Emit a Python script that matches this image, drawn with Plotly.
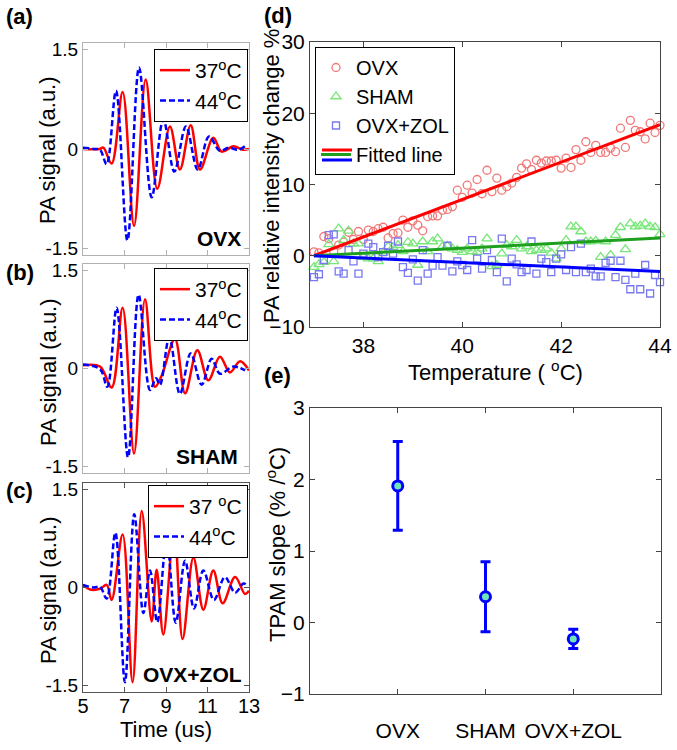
import plotly.graph_objects as go

# ---------------- data ----------------
# Panels (a)-(c): PA waveforms, extrema (time in us, signal in a.u.)
a_t37 = [5.0, 5.8, 5.98, 6.38, 6.91, 7.46, 8.02, 8.58, 9.19, 9.67, 10.19, 10.64, 11.28, 11.68, 12.25, 12.7, 13.0]
a_v37 = [0.0, 0.0, 0.02, -0.22, 0.86, -1.16, 1.05, -0.60, 0.34, -0.31, 0.36, -0.31, 0.17, -0.04, 0.04, -0.01, 0.0]
a_t44 = [5.0, 5.6, 5.82, 6.14, 6.59, 7.14, 7.70, 8.31, 8.87, 9.40, 9.96, 10.53, 11.07, 11.6, 12.0, 12.5, 12.8]
a_v44 = [0.02, 0.0, -0.01, -0.23, 0.88, -1.38, 1.23, -0.73, 0.45, -0.34, 0.34, -0.31, 0.19, -0.03, 0.02, -0.01, 0.04]

b_t37 = [5.0, 5.82, 6.38, 6.91, 7.46, 7.99, 8.47, 8.79, 9.43, 9.92, 10.51, 11.04, 11.6, 12.08, 12.57, 13.0]
b_v37 = [0.05, 0.03, -0.29, 0.93, -1.30, 1.06, -0.28, -0.11, 0.45, -0.38, 0.28, -0.18, 0.18, -0.06, 0.11, -0.03]
b_t44 = [5.0, 5.82, 6.17, 6.62, 7.17, 7.68, 8.23, 8.52, 8.71, 9.16, 9.67, 10.19, 10.72, 11.2, 11.6, 12.25, 12.81]
b_v44 = [0.06, -0.01, -0.28, 0.93, -1.36, 1.13, -0.33, -0.15, -0.25, 0.48, -0.39, 0.23, -0.25, 0.15, -0.08, 0.03, -0.03]

c_t37 = [5.0, 5.34, 5.82, 6.14, 6.38, 6.91, 7.39, 7.83, 8.31, 8.55, 8.87, 9.39, 9.80, 10.32, 10.8, 11.28, 11.73, 12.33, 12.81, 13.0]
c_v37 = [0.04, -0.03, -0.02, 0.04, -0.19, 0.81, -1.45, 1.17, -0.52, 0.27, -0.72, 0.90, -0.79, 0.46, -0.34, 0.26, -0.24, 0.16, -0.10, -0.05]
c_t44 = [5.0, 5.5, 5.82, 6.14, 6.56, 7.02, 7.47, 7.91, 8.23, 8.58, 9.03, 9.47, 9.92, 10.35, 10.8, 11.31, 11.84, 12.33, 12.73, 12.89]
c_v44 = [0.04, 0.0, 0.01, -0.17, 0.84, -1.45, 1.12, -0.39, 0.26, -0.53, 0.74, -0.54, 0.41, -0.32, 0.26, -0.19, 0.16, -0.08, 0.06, 0.04]

wave_ticks = [5, 7, 9, 11, 13]
amp_ticks = [-1.5, 0, 1.5]
amp_ticktext = ["-1.5", "0", "1.5"]
name_37 = "37<sup>o</sup>C"
name_44 = "44<sup>o</sup>C"
name_37c = "37 <sup>o</sup>C"
group_labels = ["OVX", "SHAM", "OVX+ZOL"]

# Panel (d): PA relative intensity change (%) vs temperature
temps = [37.0, 37.1, 37.2, 37.3, 37.4, 37.5, 37.6, 37.7, 37.8, 37.9,
         38.0, 38.1, 38.2, 38.3, 38.4, 38.5, 38.6, 38.7, 38.8, 38.9,
         39.0, 39.1, 39.2, 39.3, 39.4, 39.5, 39.6, 39.7, 39.8, 39.9,
         40.0, 40.1, 40.2, 40.3, 40.4, 40.5, 40.6, 40.7, 40.8, 40.9,
         41.0, 41.1, 41.2, 41.3, 41.4, 41.5, 41.6, 41.7, 41.8, 41.9,
         42.0, 42.1, 42.2, 42.3, 42.4, 42.5, 42.6, 42.7, 42.8, 42.9,
         43.0, 43.1, 43.2, 43.3, 43.4, 43.5, 43.6, 43.7, 43.8, 43.9, 44.0]
ovx_change = [0.55, 0.4, 2.7, 2.4, 0.6, 1.5, 1.9, 3.3, 2.3, 3.4,
              2.3, 3.6, 3.4, 3.8, 4.0, 2.5, 3.1, 3.2, 5.0, 4.0,
              4.9, 4.3, 3.5, 5.5, 5.6, 5.6, 6.4, 6.5, 6.9, 9.2,
              8.2, 9.9, 8.8, 10.7, 8.7, 12.0, 9.0, 10.9, 9.2, 9.7,
              10.2, 11.0, 12.3, 12.9, 12.1, 13.4, 13.0, 13.3, 13.3, 13.4,
              12.3, 13.7, 12.4, 14.9, 13.4, 16.0, 14.5, 15.5, 14.5, 14.5,
              15.1, 14.6, 17.9, 15.2, 19.0, 17.6, 17.4, 16.4, 18.6, 17.3, 18.3]
sham_change = [-1.6, -1.2, -0.9, 1.6, -0.8, 3.8, 2.2, 3.5, 1.7, 1.7,
               -0.2, -0.4, -0.4, -0.8, 0.4, 1.3, 1.2, 1.5, 0.6, 1.9,
               1.7, -1.3, 2.0, 0.6, 2.0, 2.4, 1.3, 1.4, 1.0, 0.8,
               0.5, 1.0, 0.6, 0.5, 1.0, 2.4, -1.5, -1.3, 0.3, 1.5,
               1.3, 2.2, 1.0, 1.3, 0.6, 0.8, 0.8, 1.0, 0.4, -0.4,
               1.0, 2.2, 4.1, 4.1, 3.4, 2.0, 2.0, 2.1, -0.2, 2.0,
               0.1, 2.9, 4.0, 0.9, 4.5, 4.1, 4.2, 4.5, 4.1, 4.0, 3.0]
zol_change = [-3.0, -2.6, -0.6, 2.9, 3.0, -2.2, -2.5, 0.8, -0.8, -2.5,
              0.3, 1.7, 1.2, -0.2, 0.5, 1.4, 0.3, 2.0, -1.6, -2.4,
              -0.5, -3.5, 0.8, -2.5, -1.4, -0.2, -1.4, 1.4, -2.2, -0.8,
              -1.3, -2.0, 2.2, -0.4, -1.8, 0.8, -0.6, -2.3, 2.4, -3.6,
              -0.4, -1.2, -2.3, -2.0, 2.0, -2.5, -0.4, -0.9, -2.3, -0.4,
              0.2, -2.0, 1.2, -2.3, 1.7, -2.3, -1.8, -2.9, -2.9, -1.0,
              -0.7, -3.0, -0.7, -3.4, -4.7, -2.5, -4.7, -1.3, -5.3, -2.7, -3.7]
fit_temp = [37.0, 44.0]
fit_ovx = [0.0, 18.4]
fit_sham = [0.0, 2.5]
fit_zol = [0.0, -2.2]
temp_ticks = [38, 40, 42, 44]
change_ticks = [-10, 0, 10, 20, 30]

# Panel (e): TPAM slope (% / oC) with error bars
slope_mean = [1.91, 0.36, -0.23]
slope_err = [0.62, 0.49, 0.135]
slope_ticks = [-1, 0, 1, 2, 3]

# ---------------- layout helpers ----------------
W, H = 677, 750
FONT = "Liberation Sans, Arial, sans-serif"


def fx(p):
    return p / W


def fy(p):
    return 1 - p / H


RED = "rgb(255,0,0)"
BLUE = "rgb(0,0,255)"
GREEN = "rgb(30,160,30)"

fig = go.Figure()

wave_sets = [
    (a_t37, a_v37, a_t44, a_v44, "x", "y", "legend", name_37),
    (b_t37, b_v37, b_t44, b_v44, "x2", "y2", "legend2", name_37),
    (c_t37, c_v37, c_t44, c_v44, "x3", "y3", "legend3", name_37c),
]
for t37, v37, t44, v44, xa, ya, lg, n37 in wave_sets:
    fig.add_trace(go.Scatter(x=t37, y=v37, mode="lines", name=n37, xaxis=xa, yaxis=ya,
                             legend=lg, line=dict(color=RED, width=2.5, shape="spline", smoothing=1.0)))
    fig.add_trace(go.Scatter(x=t44, y=v44, mode="lines", name=name_44, xaxis=xa, yaxis=ya,
                             legend=lg, line=dict(color=BLUE, width=2.5, dash="6px,3px",
                                                  shape="spline", smoothing=1.0)))

# panel (d)
fig.add_trace(go.Scatter(x=temps, y=ovx_change, mode="markers", name="OVX", xaxis="x4", yaxis="y4",
                         legend="legend4", cliponaxis=False,
                         marker=dict(symbol="circle-open", size=8, color="rgb(240,120,120)",
                                     line=dict(width=1.3, color="rgb(240,120,120)"))))
fig.add_trace(go.Scatter(x=temps, y=sham_change, mode="markers", name="SHAM", xaxis="x4", yaxis="y4",
                         legend="legend4", cliponaxis=False,
                         marker=dict(symbol="triangle-up-open", size=9, color="rgb(120,230,120)",
                                     line=dict(width=1.3, color="rgb(120,230,120)"))))
fig.add_trace(go.Scatter(x=temps, y=zol_change, mode="markers", name="OVX+ZOL", xaxis="x4", yaxis="y4",
                         legend="legend4", cliponaxis=False,
                         marker=dict(symbol="square-open", size=7, color="rgb(120,120,240)",
                                     line=dict(width=1.3, color="rgb(120,120,240)"))))
fig.add_trace(go.Scatter(x=fit_temp, y=fit_ovx, mode="lines", showlegend=False, xaxis="x4", yaxis="y4",
                         line=dict(color=RED, width=3)))
fig.add_trace(go.Scatter(x=fit_temp, y=fit_sham, mode="lines", name="Fitted line", xaxis="x4", yaxis="y4",
                         legend="legend4", line=dict(color=GREEN, width=3)))
fig.add_trace(go.Scatter(x=fit_temp, y=fit_zol, mode="lines", showlegend=False, xaxis="x4", yaxis="y4",
                         line=dict(color=BLUE, width=3)))

# panel (e)
fig.add_trace(go.Scatter(x=group_labels, y=slope_mean, mode="markers", showlegend=False,
                         xaxis="x5", yaxis="y5",
                         error_y=dict(type="data", array=slope_err, color=BLUE, thickness=3, width=5),
                         marker=dict(symbol="circle", size=10, color="rgb(110,230,185)",
                                     line=dict(width=3, color=BLUE))))

tickfont = dict(size=21, color="black", family=FONT)
tickfont_wave = dict(size=19, color="black", family=FONT)


def axis_style(linecolor, **kw):
    d = dict(showline=True, linecolor=linecolor, linewidth=1, mirror="ticks", ticks="inside",
             ticklen=5, tickcolor=linecolor, showgrid=False, zeroline=False, tickfont=tickfont,
             automargin=False)
    d.update(kw)
    return d


XAC = [fx(83), fx(249)]
wave_y = dict(range=[-1.6, 1.6], tickvals=amp_ticks, ticktext=amp_ticktext, tickfont=tickfont_wave)
layout_axes = dict(
    xaxis=axis_style("#b0b0b0", domain=XAC, range=[5, 13], tickvals=wave_ticks, showticklabels=False, anchor="y"),
    yaxis=axis_style("#b0b0b0", domain=[fy(255), fy(43)], anchor="x", **wave_y),
    xaxis2=axis_style("#b0b0b0", domain=XAC, range=[5, 13], tickvals=wave_ticks, showticklabels=False, anchor="y2"),
    yaxis2=axis_style("#b0b0b0", domain=[fy(473), fy(264)], anchor="x2", **wave_y),
    xaxis3=axis_style("#555555", domain=XAC, range=[5, 13], tickvals=wave_ticks, anchor="y3",
                      ticklabelstandoff=-4, tickfont=dict(size=20, color="black", family=FONT)),
    yaxis3=axis_style("#555555", domain=[fy(692), fy(483)], anchor="x3", **wave_y),
    xaxis4=axis_style("#444444", domain=[fx(310), fx(660)], range=[36.92, 44.0], tickvals=temp_ticks, anchor="y4"),
    yaxis4=axis_style("#444444", domain=[fy(327), fy(42)], range=[-10, 30], tickvals=change_ticks, anchor="x4"),
    xaxis5=axis_style("#444444", domain=[fx(310), fx(661)], type="category", range=[-1, 3],
                      ticklabelstandoff=18, anchor="y5"),
    yaxis5=axis_style("#444444", domain=[fy(694), fy(408)], range=[-1, 3], tickvals=slope_ticks, anchor="x5"),
)


def legend_box(xr, ytop, size):
    return dict(x=fx(xr), y=fy(ytop), xanchor="right", yanchor="top", bgcolor="white",
                bordercolor="black", borderwidth=1, itemwidth=30, tracegroupgap=0,
                font=dict(size=size, color="black", family=FONT))


legend_d = dict(x=fx(315), y=fy(47), xanchor="left", yanchor="top", bgcolor="rgba(255,255,255,0)",
                bordercolor="black", borderwidth=1, itemwidth=30, tracegroupgap=0,
                font=dict(size=20, color="black", family=FONT))


def ann(text, x, y, size, angle=0, xanchor="center", yanchor="middle"):
    return dict(text=text, x=fx(x), y=fy(y), xref="paper", yref="paper", showarrow=False,
                textangle=angle, xanchor=xanchor, yanchor=yanchor,
                font=dict(size=size, color="black", family=FONT))


annotations = [
    ann("<b>(a)</b>", 4, 17, 22, xanchor="left"),
    ann("<b>(b)</b>", 4, 272, 22, xanchor="left"),
    ann("<b>(c)</b>", 4, 490, 22, xanchor="left"),
    ann("<b>(d)</b>", 262, 15, 22, xanchor="left"),
    ann("<b>(e)</b>", 262, 375, 22, xanchor="left"),
    ann("<b>" + group_labels[0] + "</b>", 243, 238, 21, xanchor="right"),
    ann("<b>" + group_labels[1] + "</b>", 240, 457, 21, xanchor="right"),
    ann("<b>" + group_labels[2] + "</b>", 244, 674, 21, xanchor="right"),
    ann("PA signal (a.u.)", 48, 150, 22, angle=-90),
    ann("PA signal (a.u.)", 48, 372, 22, angle=-90),
    ann("PA signal (a.u.)", 48, 590, 22, angle=-90),
    ann("Time (us)", 166, 729, 22),
    ann("PA relative intensity change %", 271, 176, 22, angle=-90),
    ann("Temperature ( <sup>o</sup>C)", 496, 371, 22),
    ann("TPAM slope (% /<sup>o</sup>C)", 276, 545, 22, angle=-90),
]

# extra coloured strokes for the "Fitted line" legend entry (red above, blue below the green one)
shapes = [
    dict(type="line", xref="paper", yref="paper", x0=fx(322), x1=fx(352), y0=fy(150), y1=fy(150),
         line=dict(color=RED, width=3)),
    dict(type="line", xref="paper", yref="paper", x0=fx(322), x1=fx(352), y0=fy(160), y1=fy(160),
         line=dict(color=BLUE, width=3)),
]

fig.update_layout(
    template="none",
    width=W, height=H, margin=dict(l=0, r=0, t=0, b=0, autoexpand=False),
    paper_bgcolor="white", plot_bgcolor="white",
    font=dict(family=FONT, color="black"),
    legend=legend_box(248, 49, 21),
    legend2=legend_box(248, 268, 21),
    legend3=legend_box(248, 485, 21),
    legend4=legend_d,
    annotations=annotations,
    shapes=shapes,
    **layout_axes,
)

fig.write_html("out.html", config={"displayModeBar": False},
               post_script="document.body.style.margin='0px';document.body.style.overflow='hidden';")
